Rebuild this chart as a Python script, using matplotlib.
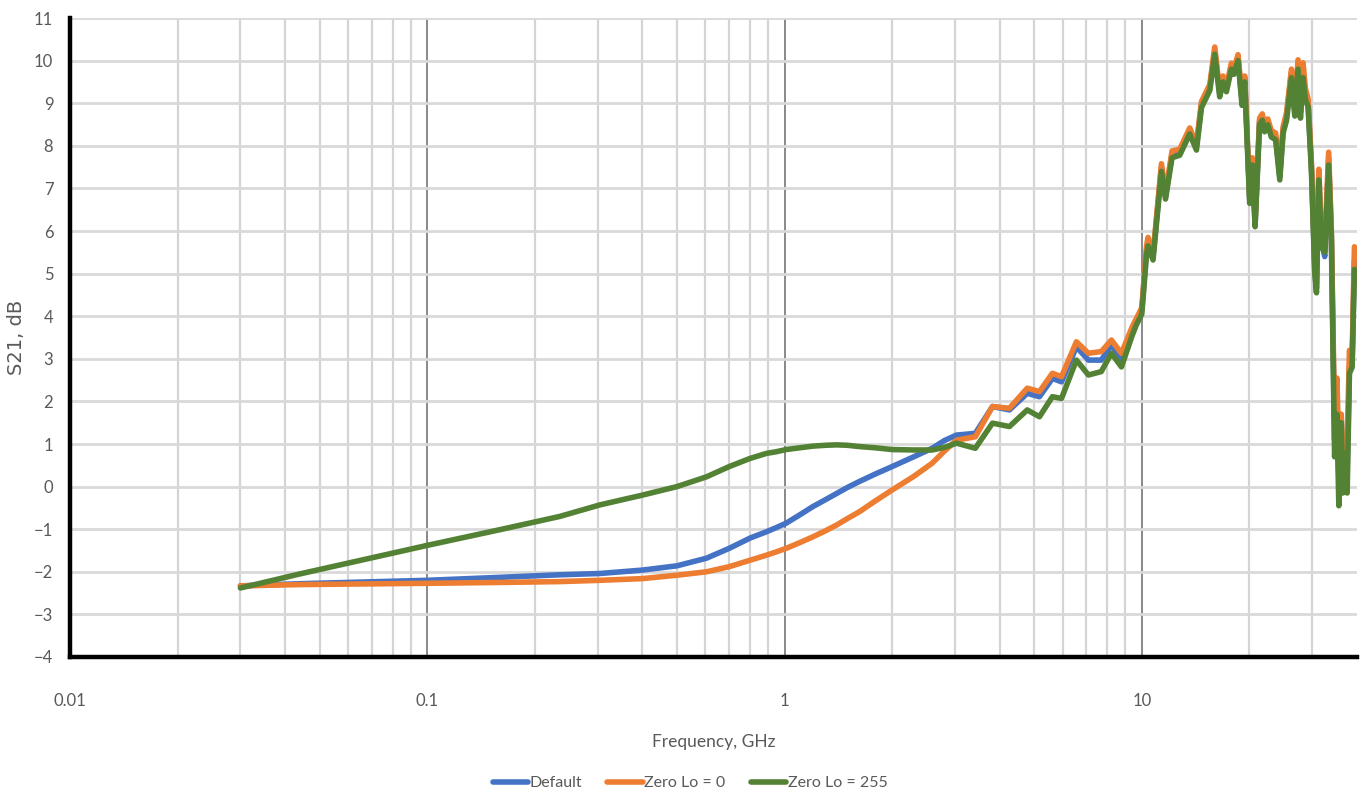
import matplotlib.pyplot as plt
from matplotlib.ticker import FixedLocator, NullFormatter

plt.rcParams['font.family'] = ['Lato', 'DejaVu Sans']

# frequency points, GHz
freq = [0.030, 0.044, 0.100, 0.160, 0.235, 0.304, 0.400, 0.500, 0.605, 0.700,
        0.800, 0.890, 0.95, 1.01, 1.10, 1.20, 1.30, 1.40, 1.50, 1.62,
        1.80, 2.00, 2.30, 2.59, 2.80, 3.03, 3.42,
        3.82, 4.26, 4.78, 5.17, 5.62, 5.96, 6.56, 7.09, 7.70, 8.22,
        8.77, 9.40, 9.66, 10.00, 10.31, 10.41, 10.75, 11.35, 11.65, 12.15,
        12.77, 13.62, 14.22, 14.69, 15.50, 16.00, 16.52, 16.88, 17.25, 17.81,
        18.11, 18.59, 19.08, 19.41, 20.04, 20.39, 20.75, 21.36, 21.74, 22.06,
        22.53, 23.03, 23.69, 24.33, 24.86, 25.42, 26.23, 26.80, 27.37, 27.80,
        28.27, 28.70, 29.20, 29.84, 30.49, 30.82, 31.29, 31.83, 32.51, 33.34,
        33.93, 34.64, 35.15, 35.60, 36.16, 36.53, 37.08, 37.56, 38.12, 38.78,
        39.36]

s21_default = [-2.33, -2.28, -2.20, -2.13, -2.07, -2.04, -1.96, -1.86, -1.68, -1.45,
               -1.21, -1.06, -0.96, -0.86, -0.67, -0.47, -0.31, -0.16, -0.02, 0.12,
               0.30, 0.47, 0.70, 0.90, 1.08, 1.21, 1.25,
               1.88, 1.80, 2.19, 2.11, 2.54, 2.46, 3.28, 2.97, 2.97, 3.32,
               3.01, 3.70, 3.90, 4.15, 5.55, 5.75, 5.40, 7.50, 6.82, 7.80,
               7.86, 8.36, 7.98, 8.98, 9.38, 10.24, 9.22, 9.58, 9.34, 9.88,
               9.76, 10.08, 9.03, 9.58, 6.75, 7.65, 6.18, 8.58, 8.68, 8.40,
               8.57, 8.30, 8.22, 7.28, 8.38, 8.70, 9.72, 8.80, 9.92, 8.78,
               9.75, 9.20, 9.00, 7.50, 5.10, 4.65, 7.35, 5.75, 5.40, 7.70,
               5.90, 1.10, 2.10, 0.20, 1.60, 0.10, 0.85, 0.40, 2.80, 2.90,
               5.30]

s21_lo0 = [-2.33, -2.30, -2.27, -2.25, -2.23, -2.20, -2.16, -2.08, -2.00, -1.88,
           -1.73, -1.61, -1.53, -1.45, -1.32, -1.18, -1.04, -0.90, -0.75, -0.59,
           -0.33, -0.08, 0.24, 0.55, 0.83, 1.09, 1.17,
           1.88, 1.84, 2.31, 2.23, 2.66, 2.58, 3.40, 3.13, 3.17, 3.44,
           3.13, 3.75, 3.95, 4.20, 5.65, 5.85, 5.45, 7.58, 6.88, 7.88,
           7.92, 8.42, 8.04, 9.04, 9.44, 10.32, 9.28, 9.64, 9.40, 9.94,
           9.82, 10.14, 9.10, 9.64, 6.80, 7.72, 6.22, 8.65, 8.75, 8.47,
           8.63, 8.36, 8.30, 7.35, 8.45, 8.78, 9.80, 8.88, 10.02, 8.85,
           9.95, 9.35, 9.10, 7.60, 5.20, 4.75, 7.45, 5.85, 5.70, 7.85,
           6.00, 1.50, 2.55, 0.90, 1.70, 0.40, 0.94, 1.00, 3.20, 3.00,
           5.63]

s21_lo255 = [-2.38, -2.05, -1.38, -1.01, -0.70, -0.43, -0.20, 0.00, 0.23, 0.47,
             0.66, 0.78, 0.82, 0.87, 0.91, 0.95, 0.97, 0.98, 0.97, 0.94,
             0.91, 0.87, 0.86, 0.86, 0.92, 1.02, 0.90,
             1.49, 1.41, 1.80, 1.64, 2.11, 2.07, 2.97, 2.62, 2.70, 3.13,
             2.81, 3.55, 3.80, 4.05, 5.45, 5.65, 5.32, 7.40, 6.75, 7.72,
             7.78, 8.28, 7.90, 8.90, 9.30, 10.15, 9.15, 9.50, 9.27, 9.80,
             9.68, 10.00, 8.95, 9.50, 6.65, 7.55, 6.10, 8.50, 8.60, 8.33,
             8.49, 8.21, 8.14, 7.20, 8.30, 8.60, 9.60, 8.70, 9.80, 8.65,
             9.60, 9.08, 8.92, 7.40, 5.00, 4.55, 7.20, 5.63, 5.50, 7.55,
             5.80, 0.70, 1.70, -0.45, 1.50, -0.15, 0.78, -0.15, 2.66, 2.80,
             5.10]

x_ticks = [0.01, 0.1, 1, 10]
x_tick_labels = ["0.01", "0.1", "1", "10"]
y_ticks = list(range(-4, 12))

fig = plt.figure(figsize=(13.61, 7.95), dpi=100)
ax = fig.add_axes([0.0514, 0.1736, 0.9456, 0.8037])

line_kw = dict(lw=4.0, solid_joinstyle="round", solid_capstyle="round")
ax.plot(freq, s21_default, color="#4472C4", label="Default", **line_kw)
ax.plot(freq, s21_lo0, color="#ED7D31", label="Zero Lo = 0", **line_kw)
ax.plot(freq, s21_lo255, color="#548235", label="Zero Lo = 255", **line_kw)

ax.set_xscale("log")
ax.set_xlim(0.01, 40)
ax.set_ylim(-4, 11)

ax.xaxis.set_major_locator(FixedLocator(x_ticks))
ax.set_xticklabels(x_tick_labels)
minors = [m * d for d in (0.01, 0.1, 1, 10) for m in range(2, 10) if m * d < 40]
ax.xaxis.set_minor_locator(FixedLocator(minors))
ax.xaxis.set_minor_formatter(NullFormatter())
ax.set_yticks(y_ticks)

ax.grid(which="major", axis="x", color="#808080", lw=1.3)
ax.grid(which="minor", axis="x", color="#d4d4d4", lw=1.6)
ax.grid(which="major", axis="y", color="#d9d9d9", lw=2.0)
ax.set_axisbelow(True)

for side in ("top", "right"):
    ax.spines[side].set_visible(False)
for side in ("left", "bottom"):
    ax.spines[side].set_linewidth(3.2)
    ax.spines[side].set_color("black")

ax.tick_params(which="both", length=0, labelsize=12, labelcolor="#595959")
ax.tick_params(axis="x", pad=26)
ax.tick_params(axis="y", pad=12)

ax.set_xlabel("Frequency, GHz", fontsize=12.5, color="#595959", labelpad=18)
ax.set_ylabel("S21, dB", fontsize=14, color="#595959", labelpad=6,
              family=["DejaVu Sans"])

fig.legend(loc="center", bbox_to_anchor=(0.507, 0.015), ncol=3, frameon=False,
           fontsize=11.5, handlelength=2.2, handletextpad=0.1, columnspacing=1.6,
           labelcolor="#595959")

fig.savefig("out.png", dpi=100)
